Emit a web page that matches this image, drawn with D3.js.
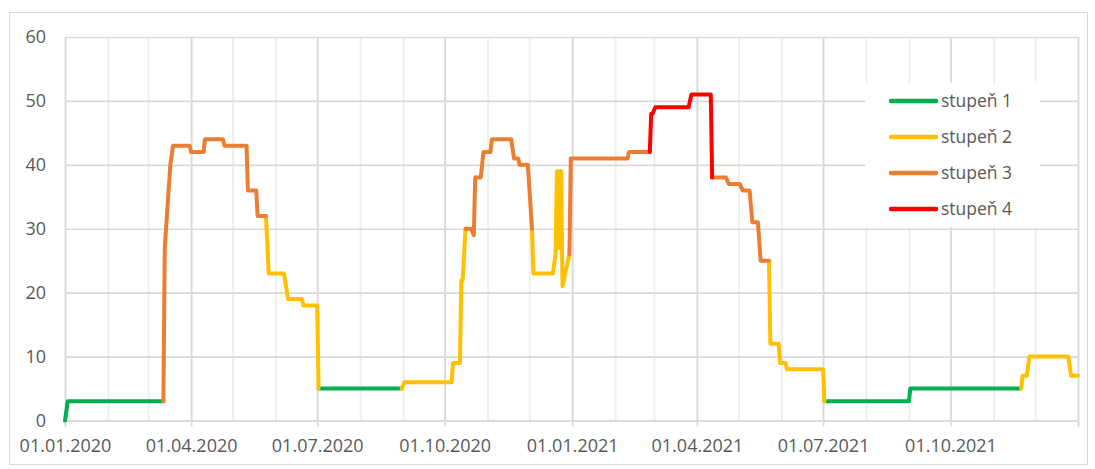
<!DOCTYPE html>
<html>
<head>
<meta charset="utf-8">
<script src="https://cdn.jsdelivr.net/npm/d3@7"></script>
<style>
    body { margin: 0; background: #fff; }
    text { font-family: "Open Sans", sans-serif; }
</style>
</head>
<body>
<div id="canvas"></div>
<script>
"use strict"

/* Drawing size */
let svgWidth = 1095;
let svgHeight = 469;
let plotLeft = 65;
let plotRight = 1078;
let plotTop = 37;
let plotBottom = 420.5;

/* Data: [date, value], null value = gap between segments */
let stupen1 = [
    ["2020-01-01", 0], ["2020-01-03", 3], ["2020-03-12", 3], [null, null],
    ["2020-07-02", 5], ["2020-08-31", 5], [null, null],
    ["2021-07-02", 3], ["2021-09-01", 3], ["2021-09-02", 5], ["2021-11-21", 5]
];

let stupen2 = [
    ["2020-05-25", 32], ["2020-05-27", 23], ["2020-06-07", 23], ["2020-06-10", 19],
    ["2020-06-20", 19], ["2020-06-21", 18], ["2020-07-01", 18], ["2020-07-02", 5], [null, null],
    ["2020-08-31", 5], ["2020-09-02", 6], ["2020-10-06", 6], ["2020-10-07", 9],
    ["2020-10-12", 9], ["2020-10-13", 22], ["2020-10-14", 22], ["2020-10-16", 30], [null, null],
    ["2020-12-03", 30], ["2020-12-04", 23], ["2020-12-18", 23], ["2020-12-20", 26],
    ["2020-12-21", 39], ["2020-12-22", 27], ["2020-12-23", 39], ["2020-12-24", 39],
    ["2020-12-25", 21], ["2020-12-30", 26], [null, null],
    ["2021-05-23", 25], ["2021-05-24", 12], ["2021-05-30", 12], ["2021-05-31", 9],
    ["2021-06-04", 9], ["2021-06-05", 8], ["2021-07-01", 8], ["2021-07-02", 3], [null, null],
    ["2021-11-21", 5], ["2021-11-22", 7], ["2021-11-25", 7], ["2021-11-27", 10],
    ["2021-12-25", 10], ["2021-12-27", 7], ["2022-01-01", 7]
];

let stupen3 = [
    ["2020-03-12", 3], ["2020-03-13", 27], ["2020-03-17", 40], ["2020-03-19", 43],
    ["2020-03-31", 43], ["2020-04-01", 42], ["2020-04-10", 42], ["2020-04-11", 44],
    ["2020-04-24", 44], ["2020-04-25", 43], ["2020-05-11", 43], ["2020-05-12", 36],
    ["2020-05-18", 36], ["2020-05-19", 32], ["2020-05-25", 32], [null, null],
    ["2020-10-16", 30], ["2020-10-20", 30], ["2020-10-22", 29], ["2020-10-23", 38],
    ["2020-10-27", 38], ["2020-10-29", 42], ["2020-11-03", 42], ["2020-11-04", 44],
    ["2020-11-18", 44], ["2020-11-20", 41], ["2020-11-23", 41], ["2020-11-24", 40],
    ["2020-11-30", 40], ["2020-12-03", 30], [null, null],
    ["2020-12-30", 26], ["2020-12-31", 41], ["2021-02-10", 41], ["2021-02-11", 42],
    ["2021-02-26", 42], [null, null],
    ["2021-04-12", 38], ["2021-04-22", 38], ["2021-04-24", 37], ["2021-05-02", 37],
    ["2021-05-04", 36], ["2021-05-09", 36], ["2021-05-11", 31], ["2021-05-15", 31],
    ["2021-05-17", 25], ["2021-05-23", 25]
];

let stupen4 = [
    ["2021-02-26", 42], ["2021-02-27", 48], ["2021-02-28", 48], ["2021-03-02", 49],
    ["2021-03-26", 49], ["2021-03-28", 51], ["2021-04-11", 51], ["2021-04-12", 38]
];

let seriesNames = ["stupeň 1", "stupeň 2", "stupeň 3", "stupeň 4"];
let seriesColors = ["#00b050", "#ffc000", "#ed7d31", "#ff0000"];
let yTicks = [0, 10, 20, 30, 40, 50, 60];

let parseDate = d3.timeParse("%Y-%m-%d");
let formatDate = d3.timeFormat("%d.%m.%Y");

let svg = d3.select("#canvas")
    .append("svg")
    .attr("width", svgWidth)
    .attr("height", svgHeight);

/* Chart frame */
svg.append("rect")
    .attr("x", 9.5)
    .attr("y", 12.5)
    .attr("width", 1078)
    .attr("height", 452)
    .attr("fill", "#fff")
    .attr("stroke", "#d9d9d9");

/* Scales */
let xScale = d3.scaleTime()
    .domain([parseDate("2020-01-01"), parseDate("2022-01-01")])
    .range([plotLeft, plotRight]);

let yScale = d3.scaleLinear()
    .domain([0, 60])
    .range([plotBottom, plotTop]);

/* Minor vertical gridlines (every month) */
svg.append("g")
    .attr("transform", "translate(0," + plotBottom + ")")
    .call(d3.axisBottom(xScale)
        .ticks(d3.timeMonth.every(1))
        .tickSize(-(plotBottom - plotTop))
        .tickFormat(""))
    .call(g => g.select(".domain").remove())
    .call(g => g.selectAll("line").attr("stroke", "#efefef").attr("stroke-width", 2));

/* Major vertical gridlines (every quarter) */
let quarters = d3.timeMonth.every(3).range(xScale.domain()[0], d3.timeDay.offset(xScale.domain()[1], 1));

svg.append("g")
    .attr("transform", "translate(0," + plotBottom + ")")
    .call(d3.axisBottom(xScale)
        .tickValues(quarters)
        .tickSize(-(plotBottom - plotTop))
        .tickFormat(""))
    .call(g => g.select(".domain").remove())
    .call(g => g.selectAll("line").attr("stroke", "#d9d9d9").attr("stroke-width", 1.6));

/* Horizontal gridlines + y labels */
svg.append("g")
    .attr("transform", "translate(" + plotLeft + ",0)")
    .call(d3.axisLeft(yScale)
        .tickValues(yTicks)
        .tickSize(-(plotRight - plotLeft))
        .tickPadding(19))
    .call(g => g.select(".domain").remove())
    .call(g => g.selectAll("line").attr("stroke", "#d9d9d9").attr("stroke-width", 1.6))
    .call(g => g.selectAll("text")
        .style("font-family", "'Open Sans', sans-serif")
        .style("font-size", "18px")
        .attr("fill", "#595959"));

/* X axis with ticks and labels */
let lastQuarter = quarters[quarters.length - 1];
svg.append("g")
    .attr("transform", "translate(0," + plotBottom + ")")
    .call(d3.axisBottom(xScale)
        .tickValues(quarters)
        .tickSize(6)
        .tickPadding(13)
        .tickFormat(d => +d === +lastQuarter ? "" : formatDate(d)))
    .call(g => g.select(".domain").attr("stroke", "#d9d9d9").attr("stroke-width", 1.6))
    .call(g => g.selectAll("line").attr("stroke", "#d9d9d9").attr("stroke-width", 1.6))
    .call(g => g.selectAll("text")
        .style("font-family", "'Open Sans', sans-serif")
        .style("font-size", "18px")
        .attr("fill", "#595959"));

/* Lines */
let line = d3.line()
    .defined(d => d[1] !== null)
    .x(d => xScale(parseDate(d[0])))
    .y(d => yScale(d[1]));

let allSeries = [stupen1, stupen2, stupen3, stupen4];

allSeries.forEach(function (values, i) {
    svg.append("path")
        .datum(values)
        .attr("d", line)
        .attr("fill", "none")
        .attr("stroke", seriesColors[i])
        .attr("stroke-width", 4)
        .attr("stroke-linejoin", "round")
        .attr("stroke-linecap", "round");
});

/* Legend */
svg.append("rect")
    .attr("x", 865)
    .attr("y", 83)
    .attr("width", 175)
    .attr("height", 144)
    .attr("fill", "#fff");

seriesNames.forEach(function (name, i) {
    let ly = 101 + i * 36;
    svg.append("line")
        .attr("x1", 891)
        .attr("x2", 936)
        .attr("y1", ly)
        .attr("y2", ly)
        .attr("stroke", seriesColors[i])
        .attr("stroke-width", 4.5)
        .attr("stroke-linecap", "round");

    svg.append("text")
        .attr("x", 941)
        .attr("y", ly)
        .attr("dy", "0.35em")
        .style("font-size", "17.5px")
        .attr("fill", "#595959")
        .text(name);
});
</script>
</body>
</html>
